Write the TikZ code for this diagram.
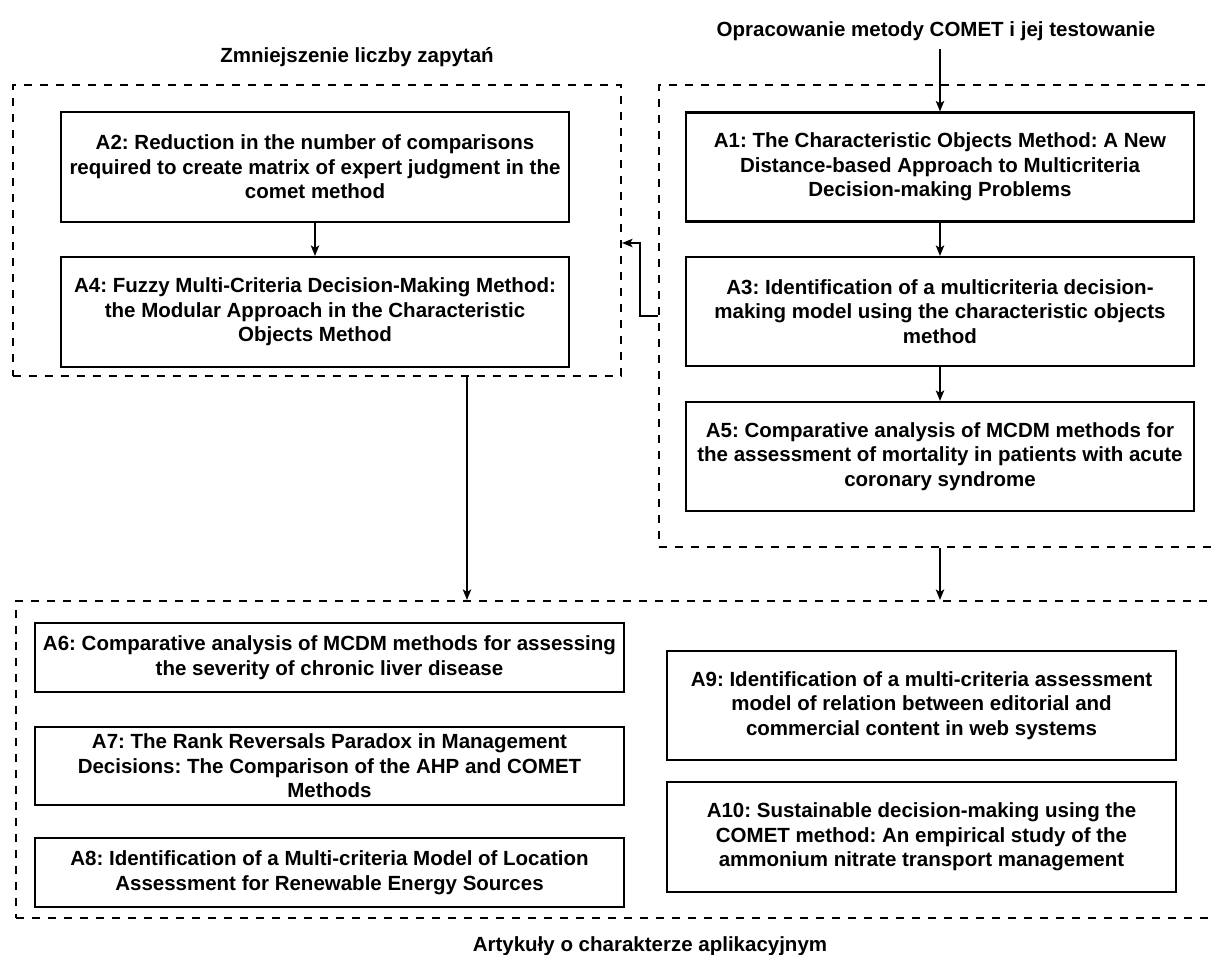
\documentclass[tikz,border=0pt]{standalone}
\usepackage{fontspec}
\setmainfont{Liberation Sans}
\usetikzlibrary{arrows.meta,calc}
\frenchspacing
\begin{document}
\tikzset{
  paper/.style={draw=black, line width=2.2pt, align=center, inner sep=0pt,
    font=\bfseries\fontsize{20.5pt}{24.5pt}\selectfont},
  group/.style={draw=black, line width=2.2pt, dash pattern=on 8pt off 8pt, inner sep=0pt},
  heading/.style={inner sep=0pt, font=\bfseries\fontsize{20.5pt}{24.5pt}\selectfont},
  arr/.style={line width=1.3pt, -{Stealth[length=10.5pt,width=8.5pt,inset=2.5pt]}}
}
\begin{tikzpicture}[x=1pt,y=-1pt]
\useasboundingbox (0,0) rectangle (1213,955);
\clip (0,0) rectangle (1213,955);

% containers
\node[group, minimum width=608pt, minimum height=291pt] (L) at (317,230.5) {};
\node[group, minimum width=562pt, minimum height=462pt] (R) at (940,316) {};
\node[group, minimum width=1205pt, minimum height=317pt] (B) at (618.5,759.5) {};

% headings
\node[heading] (t1) at (357,57) {Zmniejszenie liczby zapytań};
\node[heading] (t2) at (936,31) {Opracowanie metody COMET i jej testowanie};
\node[heading] (t3) at (650,946) {Artykuły o charakterze aplikacyjnym};
\coordinate (t2a) at (940,49);

% left group
\node[paper, minimum width=508pt, minimum height=110pt] (a2) at (315,167)
  {A2: Reduction in the number of comparisons\\required to create matrix of expert judgment in the\\comet method};
\node[paper, minimum width=508pt, minimum height=110pt] (a4) at (315,312)
  {A4: Fuzzy Multi-Criteria Decision-Making Method:\\the Modular Approach in the Characteristic\\Objects Method};

% right group
\node[paper, minimum width=508pt, minimum height=109pt] (a1) at (940,167)
  {A1: The Characteristic Objects Method: A New\\Distance-based Approach to Multicriteria\\Decision-making Problems};
\node[paper, minimum width=508pt, minimum height=109pt] (a3) at (940,311.5)
  {A3: Identification of a multicriteria decision-\\making model using the characteristic objects\\method};
\node[paper, minimum width=508pt, minimum height=109pt] (a5) at (940,456.5)
  {A5: Comparative analysis of MCDM methods for\\the assessment of mortality in patients with acute\\coronary syndrome};

% bottom group
\node[paper, minimum width=589pt, minimum height=69pt] (a6) at (329.5,657.5)
  {A6: Comparative analysis of MCDM methods for assessing\\the severity of chronic liver disease};
\node[paper, minimum width=589pt, minimum height=78pt] (a7) at (329.5,766)
  {A7: The Rank Reversals Paradox in Management\\Decisions: The Comparison of the AHP and COMET\\Methods};
\node[paper, minimum width=589pt, minimum height=69pt] (a8) at (329.5,872.5)
  {A8: Identification of a Multi-criteria Model of Location\\Assessment for Renewable Energy Sources};
\node[paper, minimum width=509pt, minimum height=109pt] (a9) at (921.5,705.5)
  {A9: Identification of a multi-criteria assessment\\model of relation between editorial and\\commercial content in web systems};
\node[paper, minimum width=509pt, minimum height=110pt] (a10) at (921.5,837)
  {A10: Sustainable decision-making using the\\COMET method: An empirical study of the\\ammonium nitrate transport management};

% connectors
\draw[arr] (t2a) -- (a1.north);
\draw[arr] (a1) -- (a3);
\draw[arr] (a3) -- (a5);
\draw[arr] (a2) -- (a4);
\draw[arr] (R.west) -- ++(-18,0) |- ([yshift=-12.5pt]L.east);
\draw[arr] ([xshift=150pt]L.south) -- ([xshift=150pt]L.south |- B.north);
\draw[arr] (R.south) -- (R.south |- B.north);
\end{tikzpicture}
\end{document}
